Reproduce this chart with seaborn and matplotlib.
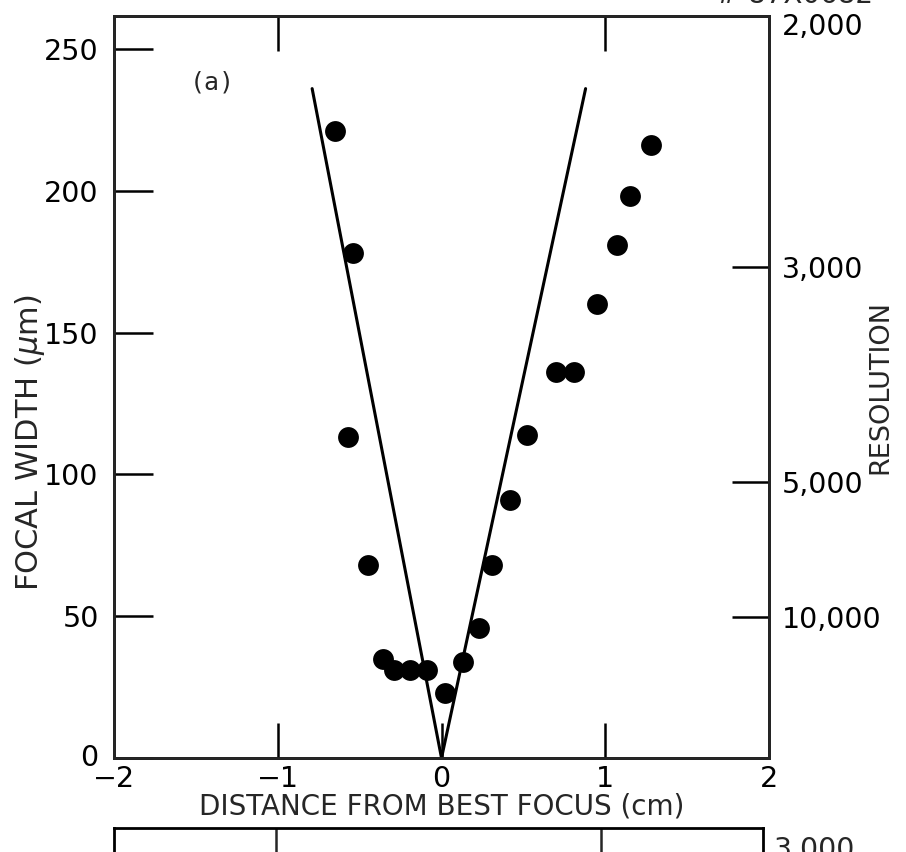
import matplotlib
matplotlib.use("Agg")
import matplotlib.pyplot as plt
import matplotlib.transforms as mtransforms
import seaborn as sns
import pandas as pd

# ---- data ----
distance_cm = [-0.65, -0.54, -0.57, -0.45, -0.36, -0.29, -0.19, -0.09, 0.02, 0.13,
               0.23, 0.31, 0.42, 0.52, 0.70, 0.81, 0.95, 1.07, 1.15, 1.28]
focal_width_um = [221, 178, 113, 68, 35, 31, 31, 31, 23, 34,
                  46, 68, 91, 114, 136, 136, 160, 181, 198, 216]

v_line_x = [-0.79, 0.0, 0.88]
v_line_y = [236, 0, 236]

x_ticks = [-2, -1, 0, 1, 2]
x_tick_labels = ["\u22122", "\u22121", "0", "1", "2"]
y_ticks = [0, 50, 100, 150, 200, 250]
y_tick_labels = ["0", "50", "100", "150", "200", "250"]
res_tick_pos = [258.8, 173, 97.3, 49.7]
res_tick_labels = ["2,000", "3,000", "5,000", "10,000"]

sns.set_style("ticks")
plt.rcParams["font.family"] = ["DejaVu Sans"]

W, H = 906, 852
fig = plt.figure(figsize=(W / 100, H / 100), dpi=100)

L, R, T, B = 114, 769, 16, 758
ax = fig.add_axes([L / W, 1 - B / H, (R - L) / W, (B - T) / H])

pts = pd.DataFrame({"d": distance_cm, "w": focal_width_um})
sns.lineplot(x=v_line_x, y=v_line_y, sort=False, estimator=None, color="black",
             lw=2.2, ax=ax)
sns.scatterplot(data=pts, x="d", y="w", color="black", s=225, edgecolor="black",
                linewidth=0, ax=ax, zorder=3)

ax.set_xlim(-2, 2)
ax.set_ylim(0, 261.6)
ax.set_xticks(x_ticks)
ax.set_xticklabels(x_tick_labels)
ax.set_yticks(y_ticks)
ax.set_yticklabels(y_tick_labels)
for s in ax.spines.values():
    s.set_visible(True)
    s.set_linewidth(2.0)
    s.set_color("black")
ax.tick_params(axis="both", direction="in", width=1.8,
               labelsize=20.5, colors="black")
ax.tick_params(axis="x", pad=5, top=True, labeltop=False, length=25)
ax.tick_params(axis="y", pad=11, length=28)
xt = ax.xaxis.get_major_ticks()
for i in (0, 4):
    xt[i].tick1line.set_visible(False)
    xt[i].tick2line.set_visible(False)
xt[2].tick2line.set_visible(False)
yt0 = ax.yaxis.get_major_ticks()[0]
yt0.tick1line.set_visible(False)
yt0.label1.set_verticalalignment("bottom")
yt0.label1.set_transform(yt0.label1.get_transform() +
                         mtransforms.ScaledTranslation(0, -10 / 72, fig.dpi_scale_trans))

ax.set_xlabel("DISTANCE FROM BEST FOCUS (cm)", fontsize=20, labelpad=0)
ax.set_ylabel("FOCAL WIDTH ($\\mu$m)", fontsize=22)
ax.yaxis.set_label_coords(-0.103, 0.425)

ax2 = ax.twinx()
ax2.set_ylim(0, 261.6)
ax2.set_yticks(res_tick_pos)
ax2.set_yticklabels(res_tick_labels)
ax2.tick_params(axis="y", direction="in", length=27, width=1.8, labelsize=20.5,
                pad=9, colors="black")
ax2.yaxis.get_major_ticks()[0].tick2line.set_visible(False)
for s in ax2.spines.values():
    s.set_linewidth(2.0)
ax2.set_ylabel("RESOLUTION", fontsize=19.5)
ax2.yaxis.set_label_coords(1.150, 0.5)

ax.text(-1.4, 238, "(a)", fontsize=18, family=["DejaVu Sans Mono"],
        va="center", ha="center")

# cut-off panel below
top_b = 828
axb = fig.add_axes([L / W, -0.3, (R - 6 - L) / W, 0.3 + (H - top_b) / H])
axb.set_xlim(-2, 2)
axb.set_ylim(0, 1)
axb.set_xticks([-1, 1])
axb.tick_params(axis="x", direction="in", top=True, bottom=False,
                labelbottom=False, length=26, width=1.8)
axb.set_yticks([])
for s in axb.spines.values():
    s.set_linewidth(2.0)
    s.set_color("black")
axb.patch.set_alpha(0)
fig.text(774 / W, 1 - 836 / H, "3,000", fontsize=20.5, va="top", ha="left")

fig.text(0.79, 0.997, "# 87X0682", fontsize=20, va="baseline", ha="left")

fig.savefig("out.png", dpi=100, facecolor="white")
